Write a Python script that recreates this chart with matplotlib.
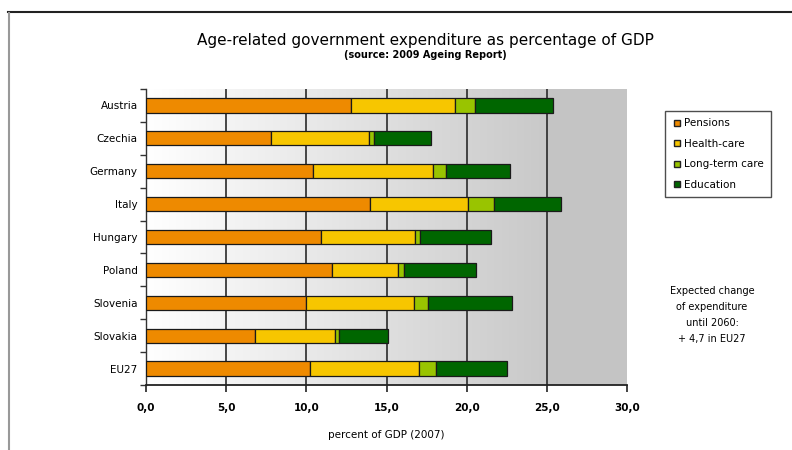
import matplotlib
matplotlib.use("Agg")
import matplotlib.pyplot as plt
import numpy as np
from matplotlib.lines import Line2D
from matplotlib.colors import LinearSegmentedColormap

countries = ["Austria", "Czechia", "Germany", "Italy", "Hungary", "Poland", "Slovenia", "Slovakia", "EU27"]
pensions = [12.8, 7.8, 10.4, 14.0, 10.9, 11.6, 10.0, 6.8, 10.2]
health = [6.5, 6.1, 7.5, 6.1, 5.9, 4.1, 6.7, 5.0, 6.8]
ltc = [1.2, 0.3, 0.8, 1.6, 0.3, 0.4, 0.9, 0.25, 1.1]
education = [4.9, 3.6, 4.0, 4.2, 4.4, 4.5, 5.2, 3.05, 4.4]
series_names = ["Pensions", "Health-care", "Long-term care", "Education"]
colors = ["#EE8A00", "#F7C600", "#99C400", "#006600"]
xticks = [0, 5, 10, 15, 20, 25, 30]
xticklabels = ["0,0", "5,0", "10,0", "15,0", "20,0", "25,0", "30,0"]

plt.rcParams['font.family'] = ['DejaVu Sans']
fig = plt.figure(figsize=(7.92, 4.5), dpi=100)
ax = fig.add_axes([146/792, 1-385/450, (627-146)/792, (385-89)/450])

# background gradient
grad = np.linspace(0, 1, 256).reshape(1, -1)
cmap = LinearSegmentedColormap.from_list("bg", ["#ffffff", "#c9c9c9"])
ax.imshow(grad, extent=[0, 25, 8.5, -0.5], aspect='auto', cmap=cmap, zorder=0)
ax.axvspan(25, 30, color="#c4c4c4", zorder=0, lw=0)

y = np.arange(len(countries))
left = np.zeros(len(countries))
for vals, name, col in zip([pensions, health, ltc, education], series_names, colors):
    ax.barh(y, vals, left=left, height=0.43, color=col, edgecolor="#1a1a1a", linewidth=0.9, zorder=3, label=name)
    left = left + np.array(vals)

ax.set_xlim(0, 30)
ax.set_ylim(8.5, -0.5)
for xv in xticks[1:-1]:
    ax.axvline(xv, color="#2a2a2a", lw=1.2, zorder=2)

ax.set_xticks(xticks)
ax.set_xticklabels(xticklabels, fontsize=7.5, fontweight='bold')
ax.tick_params(axis='x', direction='out', length=5, width=1.2, color="#222", pad=8)
ax.set_yticks(y)
ax.set_yticklabels(countries, fontsize=7.5)
ax.tick_params(axis='y', length=0, pad=6)
ax.set_yticks(np.arange(-0.5, 9, 1), minor=True)
ax.tick_params(axis='y', which='minor', length=4, width=1.0, direction='out', color="#333")

for s in ['top', 'right']:
    ax.spines[s].set_visible(False)
ax.spines['left'].set_color("#333")
ax.spines['left'].set_linewidth(1.0)
ax.spines['bottom'].set_color("#222")
ax.spines['bottom'].set_linewidth(1.3)

ax.set_xlabel("percent of GDP (2007)", fontsize=7.5, labelpad=12)

fig.text(425/792, 1-40/450, "Age-related government expenditure as percentage of GDP",
         ha='center', va='center', fontsize=11)
fig.text(425/792, 1-55/450, "(source: 2009 Ageing Report)", ha='center', va='center',
         fontsize=7, fontweight='bold')

handles = [Line2D([0], [0], marker='s', linestyle='none', markerfacecolor=c,
                  markeredgecolor='#222', markersize=5) for c in colors]
leg = fig.legend(handles, series_names, loc='upper left', bbox_to_anchor=(660/792, 1-106/450),
                 fontsize=7.5, frameon=True, fancybox=False, edgecolor="#222",
                 handletextpad=0.3, borderpad=0.7, labelspacing=1.0, handlelength=0.8)
leg.get_frame().set_linewidth(1.0)

fig.text(712/792, 1-315/450, "Expected change\nof expenditure\nuntil 2060:\n+ 4,7 in EU27",
         ha='center', va='center', fontsize=7, linespacing=1.75)

# outer frame lines
fig.add_artist(Line2D([8/792, 1], [1-12/450, 1-12/450], color="#222", lw=1.5))
fig.add_artist(Line2D([9/792, 9/792], [0, 1-13/450], color="#999", lw=1.5))

fig.savefig("out.png", dpi=100)
